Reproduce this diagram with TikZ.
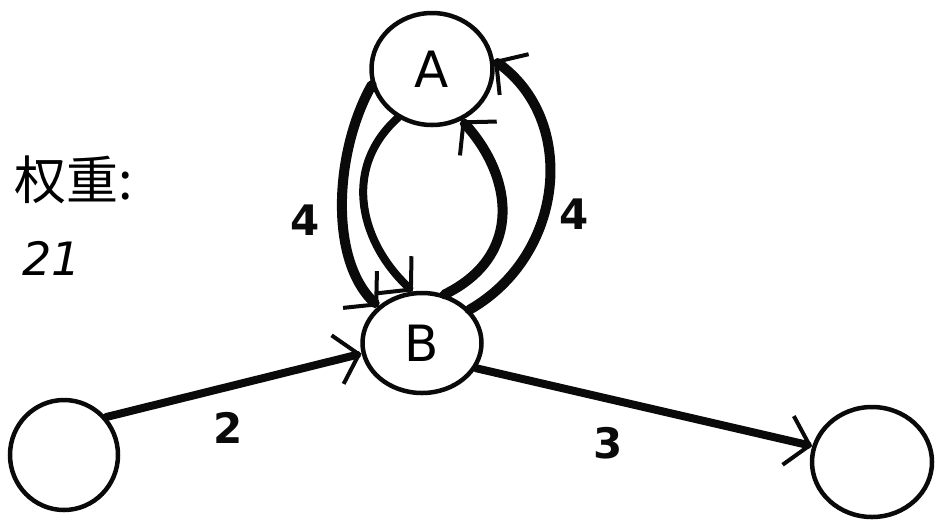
\documentclass[tikz,border=0pt]{standalone}
\usepackage{fontspec}
\setsansfont{DejaVu Sans}
\newfontfamily\cjkfont{Noto Sans CJK SC}
\usepackage{tikz}
\usetikzlibrary{shapes.geometric, arrows.meta, positioning}
\definecolor{inkdark}{RGB}{10,10,10}
\tikzset{
  vertex/.style={ellipse, draw=inkdark, fill=white, line width=4.5pt,
    inner sep=0pt, font=\sffamily\fontsize{50}{50}\selectfont},
  weight/.style={font=\sffamily\bfseries\fontsize{42}{42}\selectfont, text=inkdark},
  heavy/.style={-{Straight Barb[length=22pt, width=50pt, line width=4pt]},
    line width=10pt, line cap=round, color=inkdark},
  medium/.style={-{Straight Barb[length=22pt, width=50pt, line width=4pt]},
    line width=8pt, line cap=round, color=inkdark}
}
\begin{document}
\begin{tikzpicture}[x=1pt, y=-1pt]
  \useasboundingbox (0,0) rectangle (936,523);
  % vertices
  \node[vertex, minimum width=121pt, minimum height=112pt] (A) at (432,69) {A};
  \node[vertex, minimum width=119pt, minimum height=100pt] (B) at (422,343) {B};
  \node[vertex, minimum width=108pt, minimum height=110pt] (L) at (64,455) {};
  \node[vertex, minimum width=120pt, minimum height=110pt] (R) at (872,462) {};

  % A to B, left pair
  \draw[heavy] (A.195) .. controls (335,150) and (328,260) .. (B.140);
  \draw[medium] (A.235) .. controls (340,170) and (362,245) .. (B.100);
  \node[weight] (w1) at (305,220) {4};

  % B to A, right pair
  \draw[heavy] (B.65) .. controls (525,255) and (512,175) .. (A.-60);
  \draw[heavy] (B.35) .. controls (565,255) and (578,120) .. (A.8);
  \node[weight] (w2) at (574,214) {4};

  % outer edges
  \draw[medium] (L.42) -- (B.190);
  \node[weight] (w3) at (228,428) {2};
  \draw[medium] (B.-25) -- (R.165);
  \node[weight] (w4) at (608,443) {3};

  % total
  \node[font=\cjkfont\fontsize{52}{52}\selectfont] (lbl) at (74,180) {权重:};
  \node[font=\sffamily\itshape\fontsize{46}{46}\selectfont] (tot) at (52,258) {21};
\end{tikzpicture}
\end{document}
